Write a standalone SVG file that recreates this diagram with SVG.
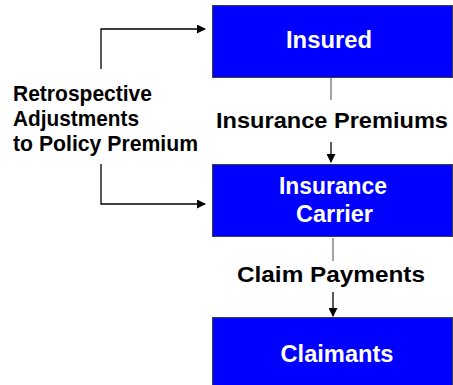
<svg xmlns="http://www.w3.org/2000/svg" width="453" height="385" viewBox="0 0 453 385">
<style>
.box{fill:#0000FF;stroke:#404040;stroke-width:1}
.wt{fill:#FFFFFF;font-family:"Liberation Sans",Arial,sans-serif;font-weight:bold;font-size:23px;text-anchor:middle}
.bt{fill:#000000;font-family:"Liberation Sans",Arial,sans-serif;font-weight:bold;font-size:21.5px}
.ln{fill:none;stroke:#000;stroke-width:1.3}
.gl{fill:none;stroke:#707070;stroke-width:1.3}
</style>
<defs>
<marker id="ah" markerWidth="9" markerHeight="9" refX="8" refY="4.5" orient="auto" markerUnits="userSpaceOnUse">
<path d="M0,0 L9,4.5 L0,9 Z" fill="#000"/>
</marker>
</defs>
<g id="connectors">
<line class="gl" x1="331" y1="78" x2="331" y2="100"/>
<line class="ln" x1="331" y1="142" x2="331" y2="162" marker-end="url(#ah)"/>
<line class="gl" x1="333" y1="238" x2="333" y2="261"/>
<line class="ln" x1="333" y1="292" x2="333" y2="316" marker-end="url(#ah)"/>
<polyline class="ln" points="101,69 101,29 205,29" marker-end="url(#ah)"/>
<polyline class="ln" points="101,164 101,204 205,204" marker-end="url(#ah)"/>
<text class="bt" x="332" y="128" text-anchor="middle" textLength="232" lengthAdjust="spacingAndGlyphs">Insurance Premiums</text>
<text class="bt" x="331" y="282" text-anchor="middle" textLength="188" lengthAdjust="spacingAndGlyphs">Claim Payments</text>
<text class="bt" x="13" y="101" textLength="139" lengthAdjust="spacingAndGlyphs">Retrospective</text>
<text class="bt" x="13" y="126" textLength="126" lengthAdjust="spacingAndGlyphs">Adjustments</text>
<text class="bt" x="13" y="151" textLength="185" lengthAdjust="spacingAndGlyphs">to Policy Premium</text>
</g>
<g id="insured">
<rect class="box" x="212.5" y="5.5" width="240" height="72"/>
<text class="wt" x="329" y="48" textLength="86" lengthAdjust="spacingAndGlyphs">Insured</text>
</g>
<g id="carrier">
<rect class="box" x="212.5" y="164.5" width="240" height="72"/>
<text class="wt" x="333" y="194" textLength="108" lengthAdjust="spacingAndGlyphs">Insurance</text>
<text class="wt" x="334.5" y="222" textLength="77" lengthAdjust="spacingAndGlyphs">Carrier</text>
</g>
<g id="claimants">
<rect class="box" x="212.5" y="317.5" width="240" height="72"/>
<text class="wt" x="337" y="362" textLength="113" lengthAdjust="spacingAndGlyphs">Claimants</text>
</g>
</svg>
